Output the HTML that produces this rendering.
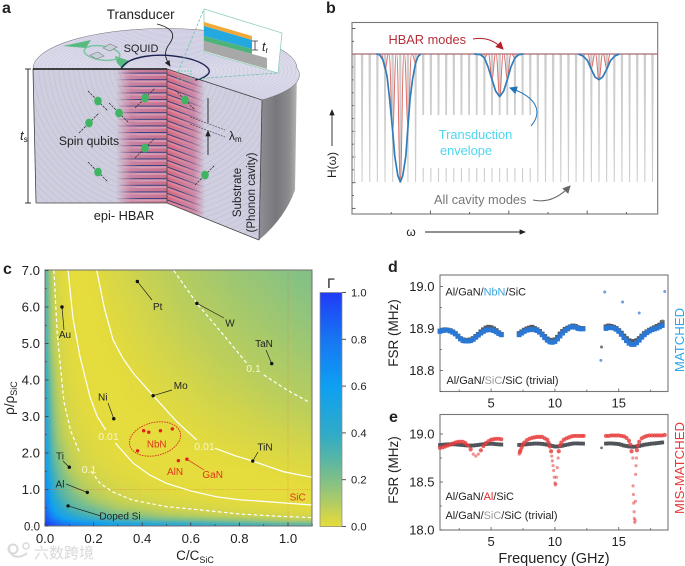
<!DOCTYPE html>
<html><head><meta charset="utf-8">
<style>
html,body{margin:0;padding:0;background:#fff;width:685px;height:566px;overflow:hidden}
svg{display:block;font-family:"Liberation Sans","Noto Sans CJK SC",sans-serif}
text{fill:#222}
</style></head>
<body>
<svg id="fig" width="685" height="566" viewBox="0 0 685 566" xmlns="http://www.w3.org/2000/svg">
<defs>
<filter id="blur" filterUnits="userSpaceOnUse" x="20" y="250" width="320" height="300"><feGaussianBlur stdDeviation="1.4"/></filter>
<clipPath id="cclip"><rect x="45" y="270" width="267" height="256"/></clipPath>
<clipPath id="topClip"><path d="M33,69 A132,40 0 0 1 297,68 A132,36 0 0 1 262,100 L167,69 Z"/></clipPath>
<clipPath id="leftClip"><path d="M33,69 L167,69 L167,203 L36,203 Z"/></clipPath>
<clipPath id="rightClip"><path d="M167,69 L262,100 L259,240 L167,203 Z"/></clipPath>
<linearGradient id="side" x1="0" x2="1" y1="0" y2="0"><stop offset="0" stop-color="#8f8f95"/><stop offset=".45" stop-color="#77777c"/><stop offset=".8" stop-color="#8d8d90"/><stop offset="1" stop-color="#b5b5b5"/></linearGradient>
<linearGradient id="bandL" x1="116" x2="167" gradientUnits="userSpaceOnUse" y1="0" y2="0"><stop offset="0" stop-color="#d6708c" stop-opacity="0"/><stop offset=".3" stop-color="#c86a8e" stop-opacity=".75"/><stop offset="1" stop-color="#c85f7d" stop-opacity=".85"/></linearGradient>
<linearGradient id="bandR" x1="167" x2="205" gradientUnits="userSpaceOnUse" y1="0" y2="0"><stop offset="0" stop-color="#d85f75" stop-opacity=".9"/><stop offset=".7" stop-color="#c86a8e" stop-opacity=".7"/><stop offset="1" stop-color="#d6708c" stop-opacity="0"/></linearGradient>
<pattern id="stripeL" width="10" height="6.6" patternUnits="userSpaceOnUse"><rect width="10" height="1.1" fill="#34407f"/><rect y="1.1" width="10" height="2.2" fill="#e9c3d2" opacity=".45"/></pattern>
<pattern id="stripeR" width="10" height="6.6" patternUnits="userSpaceOnUse" patternTransform="skewY(20)"><rect width="10" height="1.1" fill="#34407f"/><rect y="1.1" width="10" height="2.2" fill="#f0a0a8" opacity=".45"/></pattern>
<linearGradient id="fadeL" x1="116" x2="140" gradientUnits="userSpaceOnUse" y1="0" y2="0"><stop offset="0" stop-color="#000"/><stop offset="1" stop-color="#fff"/></linearGradient>
<linearGradient id="fadeR" x1="180" x2="205" gradientUnits="userSpaceOnUse" y1="0" y2="0"><stop offset="0" stop-color="#fff"/><stop offset="1" stop-color="#000"/></linearGradient>
<mask id="maskL" maskUnits="userSpaceOnUse" x="100" y="60" width="70" height="150"><rect x="100" y="60" width="70" height="150" fill="url(#fadeL)"/></mask>
<mask id="maskR" maskUnits="userSpaceOnUse" x="165" y="60" width="50" height="190"><rect x="165" y="60" width="50" height="190" fill="url(#fadeR)"/></mask>
<marker id="ah" markerWidth="7" markerHeight="6" refX="6" refY="3" orient="auto"><path d="M0,0 L7,3 L0,6 Z" fill="#222"/></marker>
<marker id="ahRed" markerWidth="8" markerHeight="8" refX="7" refY="4" orient="auto"><path d="M0,0 L8,4 L0,8 Z" fill="#b5202c"/></marker>
<marker id="ahBlue" markerWidth="8" markerHeight="8" refX="7" refY="4" orient="auto"><path d="M0,0 L8,4 L0,8 Z" fill="#1f74b8"/></marker>
<marker id="ahGrey" markerWidth="8" markerHeight="8" refX="7" refY="4" orient="auto"><path d="M0,0 L8,4 L0,8 Z" fill="#666"/></marker>
</defs>

<!-- PANEL A -->
<g id="panelA">
<text x="2" y="13" font-size="16" font-weight="700" fill="#111">a</text>
<path d="M262,100 L297,68 L295,190 Q285,218 259,240 Z" fill="url(#side)"/>
<path d="M33,69 A132,40 0 0 1 297,68 A132,36 0 0 1 262,100 L167,69 Z" fill="#dbdaea" stroke="#666" stroke-width=".5"/>
<g id="topRings" clip-path="url(#topClip)" fill="none" stroke="#b2b0d2" stroke-width=".5" stroke-opacity=".55"></g>
<path d="M33,69 L167,69 L167,203 L36,203 Z" fill="#cfcede"/>
<path d="M167,69 L262,100 L259,240 L167,203 Z" fill="#d0cfe0"/>
<g id="leftRings" clip-path="url(#leftClip)" fill="none" stroke="#afadd0" stroke-width=".6" stroke-opacity=".5"></g>
<g id="rightRings" clip-path="url(#rightClip)" fill="none" stroke="#afadd0" stroke-width=".6" stroke-opacity=".5"></g>
<g clip-path="url(#leftClip)">
<rect x="116" y="70" width="51" height="134" fill="url(#bandL)"/>
<rect x="116" y="72" width="51" height="132" fill="url(#stripeL)" mask="url(#maskL)"/>
</g>
<g clip-path="url(#rightClip)">
<rect x="167" y="69" width="40" height="175" fill="url(#bandR)"/>
<rect x="167" y="69" width="40" height="175" fill="url(#stripeR)" mask="url(#maskR)"/>
</g>
<path d="M167,69 L262,100 L259,240 M36,203 L167,203 L259,240 M167,69 L167,203 M33,69 L36,203" fill="none" stroke="#444" stroke-width=".8"/>
<path d="M33,69 L167,69" stroke="#111" stroke-width="1.4"/>
<path d="M63,46 L91,40 L86,48 Z" fill="#58b981"/>
<path d="M115,56 L130,61 L122,68.5 L117,63 Z" fill="#58b981"/>
<ellipse cx="102" cy="53" rx="18" ry="7" transform="rotate(8 102 53)" fill="none" stroke="#74c49c" stroke-width="1.4"/>
<path d="M103,48 L110,44 L117,47 L110,51 Z" fill="#c7cfd8" stroke="#7a8088" stroke-width=".6"/>
<path d="M90,55 L98,52 L104,56 L96,59 Z" fill="#c7cfd8" stroke="#7a8088" stroke-width=".6"/>
<path d="M121,69 C127,56 158,52 186,58 C204,62 214,70 207,75 C204,78 200,79 195,80" fill="none" stroke="#1c2250" stroke-width="1.4"/>
<path d="M157,24 C172,28 176,34 170,43 C163,52 165,58 170,66" fill="none" stroke="#222" stroke-width=".9" marker-end="url(#ah)"/>
<text x="140.7" y="19" font-size="13.5" text-anchor="middle">Transducer</text>
<text x="141" y="52" font-size="11" text-anchor="middle">SQUID</text>
<g id="qubits"></g>
<text x="89" y="145" font-size="12.2" text-anchor="middle">Spin qubits</text>
<text x="124" y="220" font-size="12.8" text-anchor="middle">epi- HBAR</text>
<text transform="translate(241,192.5) rotate(-90)" font-size="11.5" text-anchor="middle">Substrate</text>
<text transform="translate(255,192.5) rotate(-90)" font-size="11.5" text-anchor="middle">(Phonon cavity)</text>
<path d="M25,69 H31 M28,69 V203 M25,203 H31" fill="none" stroke="#333" stroke-width="1"/>
<text x="20" y="140" font-size="13" font-style="italic">t<tspan font-size="8" font-style="normal" dy="2">s</tspan></text>
<path d="M208,98 V123 M208,155 V131" fill="none" stroke="#222" stroke-width=".9" marker-end="url(#ah)"/>
<path d="M190,117 L225,130 M190,124 L225,137" fill="none" stroke="#444" stroke-width=".6" stroke-dasharray="2 1"/>
<text x="229" y="140" font-size="12">λ<tspan font-size="8" dy="2">m</tspan></text>
<path d="M178,72 L204,9 M193,79 L278,73" fill="none" stroke="#6fc4a8" stroke-width=".8" stroke-dasharray="3 1.5"/>
<rect x="178" y="71" width="13" height="9" fill="none" stroke="#6fc4a8" stroke-width=".7" stroke-dasharray="2 1"/>
<path d="M204,9 L282,33 L278,73 L204,52 Z" fill="#fff" stroke="#8fd0b8" stroke-width=".8"/>
<path d="M204,22 L252,36 L252,40 L204,26 Z" fill="#f2a93b"/>
<path d="M204,26 L252,40 L252,49 L204,36 Z" fill="#23a8e0"/>
<path d="M204,36 L252,49 L252,54 L204,41 Z" fill="#4cb37a"/>
<path d="M204,41 L252,54 L267,58 L267,69 L204,51 Z" fill="#a8a8a8"/>
<path d="M252,41 H258 M255,41 V50 M252,50 H258" fill="none" stroke="#333" stroke-width=".8"/>
<text x="262" y="51" font-size="12.5" font-style="italic">t<tspan font-size="8" font-style="normal" dy="2">r</tspan></text>
</g>

<!-- PANEL B -->
<g id="panelB">
<text x="326" y="13" font-size="16" font-weight="700" fill="#111">b</text>
</g>

<!-- PANEL C -->
<g id="panelC">
<text x="3" y="274" font-size="16" font-weight="700" fill="#111">c</text>
<g id="heatWrap" clip-path="url(#cclip)"><g id="heat" filter="url(#blur)"></g></g>
<g id="cOver"></g>
</g>

<!-- PANELS D/E -->
<g id="panelD">
<text x="388" y="272" font-size="16" font-weight="700" fill="#111">d</text>
</g>
<g id="panelE">
<text x="389" y="422" font-size="16" font-weight="700" fill="#111">e</text>
</g>

<g opacity=".9">
<circle cx="13" cy="549" r="4.5" fill="none" stroke="#d6d6d6" stroke-width="2"/>
<circle cx="26" cy="546" r="3" fill="none" stroke="#d6d6d6" stroke-width="1.5"/>
<path d="M9,546 C9,560 22,558 27,553" fill="none" stroke="#d6d6d6" stroke-width="2"/>
<text x="34" y="558" font-size="15" style="fill:#d4d4d4">六数跨境</text>
</g>
</svg>

<script>
// ---------- Panel b data ----------
const cavityOmega = [0.8,3.3,5.8,8.3,10.8,13.3,15.8,18.3,20.8,23.3,25.8,28.3,30.8,33.3,35.8,38.3,40.8,43.3,45.8,48.3,50.8,53.3,55.8,58.3,60.8,63.3,65.8,68.3,70.8,73.3,75.8,78.3,80.8,83.3,85.8,88.3,90.8,93.3,95.8,98.3];
const hbarOmega = [10.8,13.3,15.8,18.3,20.8,43.3,45.8,48.3,50.8,53.3,78.3,80.8,83.3];
const hbarDip = [0.88,0.4,0,0.45,0.93,0.97,0.81,0.667,0.81,0.97,0.89,0.8,0.89];
const envOmega = [0,8,9,10,10.8,11.5,12.3,13.3,14,15,15.8,16.6,17.6,18.3,19,19.8,20.8,21.6,22.5,40,42,43.3,44.5,45.8,47,48.3,49.6,50.8,52,53.3,54.6,56,74,75.5,77,78.3,79.5,80.8,82,83.3,84.6,86,87.5,100];
const envH = [1,1,0.995,0.96,0.9,0.82,0.65,0.4,0.2,0.05,0,0.05,0.2,0.43,0.65,0.8,0.93,0.98,1,1,0.995,0.97,0.9,0.8,0.71,0.667,0.71,0.8,0.9,0.97,0.995,1,1,0.985,0.95,0.88,0.82,0.8,0.82,0.88,0.95,0.985,1,1];
// ---------- Panel c data ----------
const gridC = [0.01,0.03,0.06,0.1,0.15,0.2,0.3,0.4,0.5,0.6,0.7,0.8,0.9,1.0,1.1];
const gridRho = [0.05,0.15,0.3,0.5,0.75,1,1.5,2,2.5,3,4,5,6,7];
const gamma = [
[1,.95,.88,.82,.75,.7,.6,.55,.5,.46,.42,.39,.36,.33,.31],
[.95,.83,.72,.6,.52,.46,.36,.3,.26,.23,.2,.17,.14,.11,.1],
[.88,.72,.57,.46,.36,.3,.23,.17,.11,.09,.07,.055,.047,.04,.035],
[.82,.6,.46,.33,.26,.22,.11,.08,.05,.04,.03,.02,.015,.012,.009],
[.75,.52,.36,.26,.19,.11,.06,.04,.025,.015,.01,.006,.004,.003,.002],
[.7,.46,.3,.22,.11,.08,.04,.02,.012,.006,.004,.002,.001,0,.001],
[.6,.36,.23,.11,.06,.04,.015,.006,.003,.001,0,.002,.005,.01,.015],
[.55,.3,.17,.08,.04,.02,.006,.002,0,.002,.007,.012,.02,.03,.035],
[.5,.26,.11,.05,.025,.012,.003,0,.003,.01,.02,.03,.04,.05,.06],
[.46,.23,.09,.04,.015,.006,.001,.002,.01,.02,.035,.045,.06,.07,.08],
[.39,.17,.055,.02,.006,.002,.002,.012,.03,.045,.065,.075,.09,.1,.11],
[.33,.11,.04,.012,.003,0,.01,.03,.05,.07,.085,.1,.115,.13,.145],
[.3,.09,.03,.006,.001,.002,.02,.045,.07,.09,.105,.125,.14,.16,.175],
[.27,.07,.02,.004,0,.007,.035,.065,.085,.105,.13,.15,.165,.185,.2]];
const cmapVals = [0,0.05,0.1,0.2,0.3,0.4,0.6,0.8,1.0];
const cmapColors = [[230,220,60],[208,212,76],[178,204,98],[128,192,136],[84,180,168],[48,170,200],[14,160,242],[24,118,242],[32,60,246]];
const cXTicks = [0,0.2,0.4,0.6,0.8,1.0];
const cYTicks = [0,1,2,3,4,5,6,7];
const cbTicks = [0,0.2,0.4,0.6,0.8,1.0];
const lowDashC = [.037,.05,.078,.105,.14];
const lowDashRho = [7,5.3,3.4,2.62,2.05];
const lowDash2C = [.19,.226,.28,.36,.5,.64,.8,.95,1.1];
const lowDash2Rho = [1.5,1.17,.93,.71,.53,.44,.33,.27,.23];
const lowSolidC = [.095,.115,.144,.185,.215,.25];
const lowSolidRho = [7,5.7,4.64,3.54,3.0,2.63];
const lowSolid2C = [.29,.363,.43,.5,.6,.706,.8,.912,1.1];
const lowSolid2Rho = [2.27,1.72,1.4,1.17,.96,.8,.72,.667,.575];
const upSolidC = [.213,.245,.28,.32,.363,.445,.542,.624];
const upSolidRho = [7,5.95,5.1,4.6,4.19,3.57,2.86,2.36];
const upSolid2C = [.7,.78,.855,.98,1.1];
const upSolid2Rho = [2.13,1.93,1.78,1.49,1.33];
const upDashC = [.53,.625,.706,.77,.83];
const upDashRho = [7,6.1,5.46,4.95,4.46];
const upDash2C = [.9,.995,1.09];
const upDash2Rho = [4.14,3.73,3.38];
const matNames = ['Au','Pt','W','TaN','Mo','Ni','TiN','Ti','Al','Doped Si'];
const matC = [.07,.38,.625,.933,.445,.283,.855,.1,.174,.095];
const matRho = [6.0,6.7,6.1,4.45,3.57,2.94,1.78,1.61,.92,.55];
const nitrideC = [.406,.427,.475,.524,.381,.549,.584];
const nitrideRho = [2.61,2.57,2.61,2.66,2.06,1.79,1.83];
// ---------- Panels d/e data ----------
const seg1F = [1.0,1.2,1.4,1.6,1.8,2.0,2.2,2.4,2.6,2.8,3.0,3.2,3.4,3.6,3.8,4.0,4.2,4.4,4.6,4.8,5.0,5.2,5.4,5.6,5.8];
const seg2F = [7.2,7.4,7.6,7.8,8.0,8.2,8.4,8.6,8.8,9.0,9.2,9.4,9.6,9.8,10.0,10.2,10.4,10.6,10.8,11.0,11.2,11.4,11.6,11.8,12.0,12.2];
const seg3F = [14.0,14.2,14.4,14.6,14.8,15.0,15.2,15.4,15.6,15.8,16.0,16.2,16.4,16.6,16.8,17.0,17.2,17.4,17.6,17.8,18.0,18.2,18.4];
const dBlue1 = [18.893,18.895,18.896,18.896,18.894,18.891,18.887,18.881,18.875,18.871,18.870,18.870,18.871,18.874,18.879,18.884,18.889,18.893,18.896,18.897,18.897,18.895,18.892,18.888,18.885];
const dBlue2 = [18.885,18.889,18.893,18.896,18.897,18.898,18.897,18.895,18.891,18.885,18.878,18.872,18.868,18.867,18.869,18.875,18.882,18.889,18.895,18.899,18.903,18.904,18.903,18.900,18.899,18.899];
const dBlue3 = [18.900,18.902,18.902,18.901,18.898,18.893,18.886,18.878,18.871,18.865,18.862,18.862,18.866,18.872,18.879,18.885,18.890,18.894,18.897,18.899,18.901,18.904,18.907];
const dGrey1 = [18.894,18.896,18.897,18.896,18.895,18.892,18.888,18.882,18.876,18.873,18.871,18.872,18.873,18.876,18.881,18.886,18.892,18.897,18.901,18.903,18.902,18.899,18.895,18.890,18.886];
const dGrey2 = [18.888,18.892,18.896,18.899,18.901,18.903,18.900,18.897,18.893,18.887,18.881,18.875,18.872,18.871,18.873,18.879,18.887,18.893,18.898,18.901,18.904,18.906,18.905,18.902,18.900,18.900];
const dGrey3 = [18.904,18.906,18.905,18.903,18.900,18.895,18.889,18.882,18.876,18.871,18.869,18.869,18.871,18.876,18.882,18.888,18.892,18.896,18.899,18.902,18.905,18.908,18.914];
const dBlueOutF = [13.6,13.9,15.3,16.6,18.6];
const dBlueOutV = [18.824,18.987,18.963,18.937,18.988];
const dGreyOutF = [13.65,18.42];
const dGreyOutV = [18.856,18.918];
const eGrey1 = [18.885,18.888,18.89,18.892,18.893,18.893,18.892,18.89,18.887,18.885,18.882,18.88,18.88,18.88,18.883,18.886,18.89,18.893,18.896,18.898,18.899,18.897,18.894,18.892,18.89];
const eGrey2 = [18.886,18.888,18.89,18.893,18.896,18.898,18.9,18.9,18.899,18.897,18.893,18.888,18.882,18.875,18.87,18.87,18.873,18.878,18.885,18.89,18.896,18.9,18.902,18.902,18.9,18.9];
const eGrey3 = [18.9,18.902,18.902,18.9,18.898,18.895,18.888,18.88,18.875,18.87,18.868,18.867,18.87,18.875,18.882,18.888,18.892,18.896,18.9,18.902,18.905,18.908,18.912];
const eGreyOutF = [13.65];
const eGreyOutV = [18.855];
const eRedF = [1.0,1.2,1.4,1.6,1.8,2.0,2.2,2.4,2.6,2.8,3.0,3.2,3.4,3.6,3.8,4.0,4.2,4.4,4.6,4.8,5.0,5.2,5.4,5.6,5.8,
7.2,7.25,7.3,7.4,7.5,7.6,7.8,8.0,8.2,8.4,8.6,8.8,9.0,9.2,9.4,9.5,9.6,9.7,9.75,9.8,9.85,9.9,9.95,10.0,10.03,10.07,10.12,10.18,10.25,10.3,10.4,10.5,10.7,10.9,11.1,11.3,11.5,11.7,11.9,12.1,12.25,
14.0,14.2,14.4,14.6,14.8,15.0,15.2,15.4,15.6,15.8,15.9,16.0,16.1,16.12,16.15,16.17,16.2,16.22,16.25,16.28,16.3,16.32,16.35,16.38,16.42,16.5,16.6,16.8,17.0,17.2,17.4,17.6,17.8,18.0,18.2,18.4,18.6];
const eRedV = [18.855,18.862,18.87,18.88,18.89,18.9,18.91,18.918,18.92,18.918,18.905,18.88,18.84,18.79,18.77,18.79,18.83,18.875,18.905,18.925,18.94,18.945,18.95,18.95,18.945,
18.79,18.81,18.83,18.86,18.89,18.91,18.935,18.95,18.96,18.965,18.97,18.97,18.97,18.955,18.94,18.91,18.87,18.82,18.77,18.72,18.67,18.62,18.55,18.49,18.47,18.48,18.55,18.65,18.75,18.82,18.88,18.91,18.94,18.955,18.965,18.975,18.98,18.98,18.98,18.98,18.98,
18.98,18.98,18.985,18.985,18.985,18.985,18.98,18.975,18.96,18.93,18.89,18.82,18.75,18.46,18.37,18.28,18.19,18.12,18.08,18.10,18.3,18.58,18.67,18.75,18.83,18.88,18.92,18.955,18.97,18.98,18.985,18.985,18.985,18.985,18.985,18.985,18.99];
const xMajorFreq = [5,10,15];
const xMinorFreq = [2.5,7.5,12.5,17.5];
const dYTicks = [18.8,18.9,19.0];
const eYTicks = [18.0,18.5,19.0];

// ---------- helpers ----------
const NS = 'http://www.w3.org/2000/svg';
function el(tag, attrs, parent){
  const n = document.createElementNS(NS, tag);
  for (const k in attrs) n.setAttribute(k, attrs[k]);
  parent.appendChild(n);
  return n;
}
function polyD(xs, ys, fx, fy){
  return xs.map((x,i)=>(i?'L':'M')+fx(x).toFixed(2)+','+fy(ys[i]).toFixed(2)).join(' ');
}

// ---------- Panel a generated rings / qubits ----------
(function(){
  const top = document.getElementById('topRings');
  for (let r=12; r<160; r+=4){
    const e = el('ellipse',{cx:180,cy:71,rx:r,ry:r*0.3},top);
    
    
  }
  const left = document.getElementById('leftRings');
  for (let r=14; r<190; r+=5){
    const c = el('circle',{cx:172,cy:60,r:r},left);
    
    
  }
  const right = document.getElementById('rightRings');
  for (let r=14; r<190; r+=5){
    const c = el('circle',{cx:160,cy:70,r:r},right);
    
    
  }
  const q = [[98,101,-1],[119,113,-1],[89,123,1],[145,98,1],[185,100,-1],[145,148,1],[98,172,-1],[205,175,1]];
  const g = document.getElementById('qubits');
  q.forEach(p=>{
    const l = el('line',{x1:p[0]-10,y1:p[1]+p[2]*10,x2:p[0]+10,y2:p[1]-p[2]*10,stroke:'#333','stroke-width':.8,'stroke-dasharray':'2.5 1'},g);
    
    
    const c = el('ellipse',{cx:p[0],cy:p[1],rx:3.8,ry:4.4,fill:'#3fb463'},g);
    
    
  });
})();

// ---------- Panel b ----------
(function(){
  const g = document.getElementById('panelB');
  const X = w => 352 + w*3.057;
  const Y = h => 182 - h*128;
  const frame = el('rect',{x:352,y:22.5,width:305.7,height:191.5,fill:'#fff',stroke:'#777','stroke-width':1.1},g);
  
  
  for (let i=0;i<15;i++){
    const y = 28.5 + i*12.85;
    const t = el('line',{x1:352,x2:i%2?354:355.5,y1:y,y2:y,stroke:'#555','stroke-width':.9},g);
    
    
  }
  for (let i=1;i<8;i++){
    const x = 352 + i*39.2;
    const t = el('line',{x1:x,x2:x,y1:214,y2:i%2?212:210.5,stroke:'#555','stroke-width':.9},g);
    
    
  }
  cavityOmega.forEach(w=>{
    const x = X(w);
    const p = el('path',{d:`M${x-1.2},${Y(1)} L${x+1.2},${Y(1)} L${x+.5},${Y(0)} L${x-.5},${Y(0)} Z`,fill:'#cdcdcd'},g);
    
    
  });
  const cover = el('rect',{x:421,y:115,width:111,height:53,fill:'#fff',opacity:.97},g);
  
  
  const base = el('line',{x1:X(0),x2:X(100),y1:Y(1),y2:Y(1),stroke:'#a96a78','stroke-width':1.3},g);
  
  
  hbarOmega.forEach((w,i)=>{
    const x = X(w), y = Y(hbarDip[i]), t = Y(1);
    const p = el('path',{d:`M${x-3.6},${t} C${x-2},${t} ${x-1.4},${y} ${x},${y} C${x+1.4},${y} ${x+2},${t} ${x+3.6},${t}`,fill:'none',stroke:'#dc6c68','stroke-width':1},g);
    
    
  });
  let start = -1;
  envH.forEach((h,i)=>{
    if (h<1 && start<0) start = i-1;
    if (h===1 && start>=0){
      const p = el('path',{d:polyD(envOmega.slice(start,i+1),envH.slice(start,i+1),X,Y),fill:'none',stroke:'#2f7db9','stroke-width':1.7,'stroke-linejoin':'round'},g);
      
      
      start = -1;
    }
  });
  const t1 = el('text',{x:388.5,y:44,'font-size':12.8,style:'fill:#b5303c'},g);
  t1.textContent = 'HBAR modes';
  
  
  const a1 = el('path',{d:'M473,39 C485,37 494,40 503,49',fill:'none',stroke:'#b5202c','stroke-width':1,'marker-end':'url(#ahRed)'},g);
  
  
  const t2 = el('text',{x:475.5,y:139,'font-size':12.8,'text-anchor':'middle',style:'fill:#4fd6f0'},g);
  t2.textContent = 'Transduction';
  
  
  const t3 = el('text',{x:466,y:155,'font-size':12.8,'text-anchor':'middle',style:'fill:#4fd6f0'},g);
  t3.textContent = 'envelope';
  
  
  const a2 = el('path',{d:'M531,126 C543,112 537,97 510,88',fill:'none',stroke:'#1f74b8','stroke-width':1,'marker-end':'url(#ahBlue)'},g);
  
  
  const t4 = el('text',{x:434,y:204,'font-size':12.8,style:'fill:#777'},g);
  t4.textContent = 'All cavity modes';
  
  
  const a3 = el('path',{d:'M533,200 C547,203 559,198 570,186',fill:'none',stroke:'#666','stroke-width':1,'marker-end':'url(#ahGrey)'},g);
  
  
  const yl = el('text',{transform:'translate(336,165) rotate(-90)','font-size':12,'text-anchor':'middle'},g);
  yl.textContent = 'H(ω)';
  
  
  const ya = el('line',{x1:332,x2:332,y1:146,y2:110,stroke:'#222','stroke-width':.9,'marker-end':'url(#ah)'},g);
  
  
  const xl = el('text',{x:411,y:236,'font-size':12,'text-anchor':'middle'},g);
  xl.textContent = 'ω';
  
  
  const xa = el('line',{x1:425,x2:525,y1:232,y2:232,stroke:'#222','stroke-width':.9,'marker-end':'url(#ah)'},g);
  
  
})();

// ---------- Panel c ----------
function cmap(v){
  let i = 0;
  while (i < cmapVals.length-2 && v > cmapVals[i+1]) i++;
  const t = Math.max(0,Math.min(1,(v-cmapVals[i])/(cmapVals[i+1]-cmapVals[i])));
  const a = cmapColors[i], b = cmapColors[i+1];
  return 'rgb('+a.map((c,k)=>Math.round(c+(b[k]-c)*t)).join(',')+')';
}
function logFrac(arr, v){
  const q = Math.log(Math.max(arr[0], Math.min(arr[arr.length-1], v)));
  let i = 0;
  while (i < arr.length-2 && q > Math.log(arr[i+1])) i++;
  const a = Math.log(arr[i]), b = Math.log(arr[i+1]);
  return [i, (q-a)/(b-a)];
}
function gammaAt(c, r){
  const [i,u] = logFrac(gridC, c);
  const [j,w] = logFrac(gridRho, r);
  return (1-w)*((1-u)*gamma[j][i]+u*gamma[j][i+1]) + w*((1-u)*gamma[j+1][i]+u*gamma[j+1][i+1]);
}
(function(){
  const X = c => 45 + c*243;
  const Y = r => 526 - r*36.5;
  const heat = document.getElementById('heat');
  const step = 3;
  for (let py = 264; py < 532; py += step){
    for (let px = 39; px < 318; px += step){
      const c = (px + step/2 - 45)/243;
      const r = (526 - py - step/2)/36.5;
      const cell = el('rect',{x:px,y:py,width:step+.4,height:step+.4,fill:cmap(gammaAt(c,r))},heat);
      
      
    }
  }
  const g = document.getElementById('cOver');
  const clip = el('g',{'clip-path':'url(#cclip)'},g);
  const refH = el('line',{x1:45,x2:312,y1:Y(1),y2:Y(1),stroke:'#d96a3a','stroke-width':.7,'stroke-dasharray':'1 1.2',opacity:.55},clip);
  
  
  const refV = el('line',{x1:X(1),x2:X(1),y1:270,y2:526,stroke:'#d96a3a','stroke-width':.7,'stroke-dasharray':'1 1.2',opacity:.55},clip);
  
  
  [[lowDashC,lowDashRho,1],[lowDash2C,lowDash2Rho,1],[upDashC,upDashRho,1],[upDash2C,upDash2Rho,1],[lowSolidC,lowSolidRho,0],[lowSolid2C,lowSolid2Rho,0],[upSolidC,upSolidRho,0],[upSolid2C,upSolid2Rho,0]].forEach(s=>{
    const p = el('path',{d:polyD(s[0],s[1],X,Y),fill:'none',stroke:'#fff','stroke-width':1.2},clip);
    
    
    if (s[2]) p.setAttribute('stroke-dasharray','3.5 2.5');
  });
  [[108.5,440,'0.01'],[204.5,450,'0.01'],[89,473,'0.1'],[253.5,372,'0.1']].forEach(a=>{
    const t = el('text',{x:a[0],y:a[1],'font-size':10.5,'text-anchor':'middle',style:'fill:#f7f5d0'},g);
    t.textContent = a[2];
    
    
  });
  const labelPos = [[65,338,64,330],[157.7,310,152,300],[230,326.7,224,318],[264,347,266,350],[180.7,389,172,390],[102.7,400.7,108,403],[265,450.7,258,452],[60,459.7,63,461],[60,487.3,66,484],[120,519.7,101,516]];
  matNames.forEach((n,i)=>{
    const lp = labelPos[i];
    const l = el('line',{x1:X(matC[i]),y1:Y(matRho[i]),x2:lp[2],y2:lp[3],stroke:'#222','stroke-width':.7},g);
    
    
    const c = el('circle',{cx:X(matC[i]),cy:Y(matRho[i]),r:1.7,fill:'#111'},g);
    
    
    const t = el('text',{x:lp[0],y:lp[1],'font-size':10,'text-anchor':'middle',style:'fill:#222'},g);
    t.textContent = n;
    
    
  });
  const ell = el('ellipse',{cx:155,cy:439,rx:26,ry:16.5,transform:'rotate(-14 155 439)',fill:'none',stroke:'#d92a20','stroke-width':.9,'stroke-dasharray':'1.6 1'},g);
  
  
  const gl = el('line',{x1:X(.584),y1:Y(1.83),x2:204,y2:470,stroke:'#d92a20','stroke-width':.7},g);
  
  
  nitrideC.forEach((c0,i)=>{
    const c = el('circle',{cx:X(c0),cy:Y(nitrideRho[i]),r:1.7,fill:'#e0201c'},g);
    
    
  });
  [[156.7,447.5,'NbN',9.8],[175,475,'AlN',10],[212.7,478,'GaN',10],[297.7,500.5,'SiC',10]].forEach(a=>{
    const t = el('text',{x:a[0],y:a[1],'font-size':a[3],'text-anchor':'middle',style:'fill:#e0351c'},g);
    t.textContent = a[2];
    
    
  });
  const frame = el('rect',{x:45,y:270,width:267,height:256,fill:'none',stroke:'#6e6e6e','stroke-width':1},g);
  
  
  cXTicks.forEach(v=>{
    const tk = el('line',{x1:X(v),x2:X(v),y1:526,y2:522.5,stroke:'#444','stroke-width':.9},g);
    
    
    const mn = el('line',{x1:X(v+.1),x2:X(v+.1),y1:526,y2:524,stroke:'#444','stroke-width':.7},g);
    
    
    const t = el('text',{x:X(v),y:543,'font-size':13.2,'text-anchor':'middle'},g);
    t.textContent = v.toFixed(1);
    
    
  });
  cYTicks.forEach(v=>{
    const tk = el('line',{x1:45,x2:48.5,y1:Y(v),y2:Y(v),stroke:'#444','stroke-width':.9},g);
    
    
    if (v < 7){
      const mn = el('line',{x1:45,x2:47,y1:Y(v+.5),y2:Y(v+.5),stroke:'#444','stroke-width':.7},g);
      
      
    }
    const t = el('text',{x:40,y:Y(v)+4.7,'font-size':v===0?11.5:13.2,'text-anchor':'end'},g);
    t.textContent = v.toFixed(1);
    
    
  });
  const xt = el('text',{x:195,y:560,'font-size':13.5,'text-anchor':'middle'},g);
  xt.innerHTML = 'C/C<tspan font-size="9" dy="3">SiC</tspan>';
  
  
  const yt = el('text',{transform:'translate(14,398) rotate(-90)','font-size':13.5,'text-anchor':'middle'},g);
  yt.innerHTML = 'ρ/ρ<tspan font-size="9" dy="3">SiC</tspan>';
  
  
  // colour bar
  const CBY = v => 526.5 - v*234;
  for (let i=0;i<100;i++){
    const v = i/100;
    const r = el('rect',{x:320,y:CBY(v+.01),width:22,height:2.8,fill:cmap(v+.005)},g);
    
    
  }
  const cbf = el('rect',{x:320,y:292.5,width:22,height:234,fill:'none',stroke:'#8a8a8a','stroke-width':.7},g);
  
  
  cbTicks.forEach(v=>{
    const tk = el('line',{x1:342,x2:346,y1:CBY(v),y2:CBY(v),stroke:'#444','stroke-width':.9},g);
    
    
    const t = el('text',{x:351,y:CBY(v)+4,'font-size':11.2},g);
    t.textContent = v.toFixed(1);
    
    
  });
  const gt = el('text',{x:331,y:288,'font-size':14,'text-anchor':'middle'},g);
  gt.textContent = 'Γ';
  
  
})();

// ---------- Panels d / e ----------
function axes(g, top, bottom, Y, yTicks, minorStep, X){
  const f = el('rect',{x:440,y:top,width:228,height:bottom-top,fill:'#fff',stroke:'#777','stroke-width':1.1},g);
  
  
  xMajorFreq.forEach(v=>{
    const tk = el('line',{x1:X(v),x2:X(v),y1:bottom,y2:bottom-3,stroke:'#555','stroke-width':.8},g);
    
    
    const t = el('text',{x:X(v),y:bottom+16,'font-size':13,'text-anchor':'middle'},g);
    t.textContent = v;
    
    
  });
  xMinorFreq.forEach(v=>{
    const mn = el('line',{x1:X(v),x2:X(v),y1:bottom,y2:bottom-2,stroke:'#555','stroke-width':.7},g);
    
    
  });
  yTicks.forEach(v=>{
    const tk = el('line',{x1:440,x2:443,y1:Y(v),y2:Y(v),stroke:'#555','stroke-width':.8},g);
    
    
    if (Y(v-minorStep) < bottom){
      const mn = el('line',{x1:440,x2:442,y1:Y(v-minorStep),y2:Y(v-minorStep),stroke:'#555','stroke-width':.7},g);
      
      
    }
    const t = el('text',{x:434.5,y:Y(v)+4.6,'font-size':13,'text-anchor':'end'},g);
    t.textContent = v.toFixed(1);
    
    
  });
}
const FX = f => 440 + (f-1)*12.77;
function scatterSquares(g, fs, vs, Y, color, size, name){
  fs.forEach((f,i)=>{
    const r = el('rect',{x:FX(f)-size/2,y:Y(vs[i])-size/2,width:size,height:size,fill:color},g);
    
    
  });
}
function scatterDots(g, fs, vs, Y, color, r0, op, name){
  fs.forEach((f,i)=>{
    const c = el('circle',{cx:FX(f),cy:Y(vs[i]),r:r0,fill:color,opacity:op},g);
    
    
  });
}
function richText(g, x, y, parts, name){
  const t = el('text',{x:x,y:y,'font-size':10.9},g);
  parts.forEach(p=>{
    const s = el('tspan',{style:'fill:'+p[1]},t);
    s.textContent = p[0];
  });
  
  
}
(function(){
  const g = document.getElementById('panelD');
  const Y = v => 328.5 - (v-18.9)*420;
  axes(g, 275, 391.5, Y, dYTicks, 0.05, FX);
  [[seg1F,dGrey1],[seg2F,dGrey2],[seg3F,dGrey3]].forEach(s=>scatterSquares(g,s[0],s[1],Y,'#555a60',4.8,'trivial-point'));
  scatterDots(g,dGreyOutF,dGreyOutV,Y,'#70767c',1.5,1,'trivial-outlier');
  [[seg1F,dBlue1],[seg2F,dBlue2],[seg3F,dBlue3]].forEach(s=>scatterSquares(g,s[0],s[1],Y,'#2a78d6',4.8,'matched-point'));
  scatterDots(g,dBlueOutF,dBlueOutV,Y,'#6ea0e0',1.5,1,'matched-outlier');
  richText(g,445.5,295.5,[['Al/GaN/','#222'],['NbN','#3aa6e2'],['/SiC','#222']],'matched-stack-label');
  richText(g,446.5,384,[['Al/GaN/','#222'],['SiC','#999'],['/SiC (trivial)','#222']],'trivial-stack-label');
  const yt = el('text',{transform:'translate(398,333) rotate(-90)','font-size':13.5,'text-anchor':'middle'},g);
  yt.textContent = 'FSR (MHz)';
  
  
  const m = el('text',{transform:'translate(684,340) rotate(-90)','font-size':13.2,'text-anchor':'middle',style:'fill:#2ea6e6'},g);
  m.textContent = 'MATCHED';
  
  
})();
(function(){
  const g = document.getElementById('panelE');
  const Y = v => 434 - (v-19)*96;
  axes(g, 414.5, 530, Y, eYTicks, 0.25, FX);
  [[seg1F,eGrey1],[seg2F,eGrey2],[seg3F,eGrey3]].forEach(s=>scatterSquares(g,s[0],s[1],Y,'#50555a',3.8,'trivial-point'));
  scatterDots(g,eGreyOutF,eGreyOutV,Y,'#777',1.4,1,'trivial-outlier');
  eRedF.forEach((f,i)=>{
    const deep = eRedV[i] < 18.8;
    const c = el('circle',{cx:FX(f),cy:Y(eRedV[i]),r:deep?1.6:2.1,fill:'#e63c3c',opacity:deep?.55:.82},g);
    
    
  });
  richText(g,445.5,500,[['Al/GaN/','#222'],['Al','#e02c2c'],['/SiC','#222']],'mismatched-stack-label');
  richText(g,445.5,519,[['Al/GaN/','#222'],['SiC','#999'],['/SiC (trivial)','#222']],'trivial-stack-label');
  const yt = el('text',{transform:'translate(398,470) rotate(-90)','font-size':13.5,'text-anchor':'middle'},g);
  yt.textContent = 'FSR (MHz)';
  
  
  const m = el('text',{transform:'translate(684,468) rotate(-90)','font-size':13.2,'text-anchor':'middle',style:'fill:#e23a3a'},g);
  m.textContent = 'MIS-MATCHED';
  
  
  const xt = el('text',{x:554,y:563,'font-size':14.5,'text-anchor':'middle'},g);
  xt.textContent = 'Frequency (GHz)';
  
  
})();
</script>
</body></html>
